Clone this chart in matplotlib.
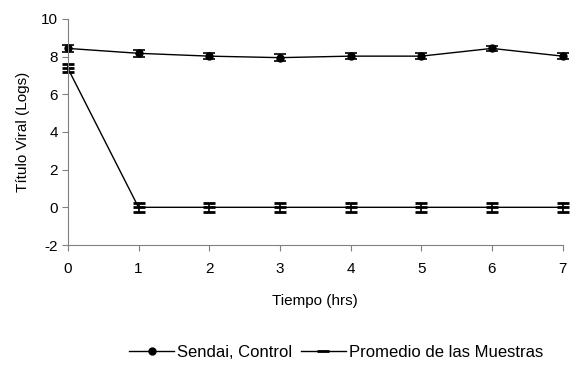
import matplotlib.pyplot as plt
from matplotlib.lines import Line2D

plt.switch_backend('Agg')
plt.rcParams['font.family'] = ['Liberation Sans', 'DejaVu Sans']
plt.rcParams['axes.unicode_minus'] = False

tiempo = [0, 1, 2, 3, 4, 5, 6, 7]
sendai_control = [8.43, 8.17, 8.02, 7.94, 8.02, 8.02, 8.43, 8.02]
sendai_err = [0.2, 0.2, 0.15, 0.2, 0.15, 0.15, 0.15, 0.15]
promedio = [7.38, 0, 0, 0, 0, 0, 0, 0]
promedio_err = [0.2, 0.25, 0.25, 0.25, 0.25, 0.25, 0.25, 0.25]

fig = plt.figure(figsize=(5.7, 3.69), dpi=100)
ax = fig.add_axes([0.119, 0.336, 0.868, 0.613])

ax.errorbar(tiempo, sendai_control, yerr=sendai_err, color='black', marker='o',
            markersize=5, linewidth=1, capsize=4, elinewidth=1.2, capthick=1.2)
ax.errorbar(tiempo, promedio, yerr=promedio_err, color='black', marker='_',
            markersize=9, markeredgewidth=2, linewidth=1, capsize=4,
            elinewidth=1.2, capthick=1.2)

ax.set_xlim(0, 7)
ax.set_ylim(-2, 10)
ax.set_xticks(tiempo)
ax.set_yticks(range(-2, 11, 2))
ax.tick_params(direction='out', length=4, color='#808080', labelsize=11, pad=8)
ax.tick_params(axis='y', pad=3)
for side in ['top', 'right']:
    ax.spines[side].set_visible(False)
for side in ['left', 'bottom']:
    ax.spines[side].set_color('#808080')
for art in ax.get_children():
    art.set_clip_on(False)

ax.set_xlabel('Tiempo (hrs)', fontsize=11, labelpad=13)
ax.set_ylabel('Título Viral (Logs)', fontsize=11, labelpad=8)

handles = [
    Line2D([], [], color='black', marker='o', markersize=5, linewidth=1),
    Line2D([], [], color='black', marker='_', markersize=9, markeredgewidth=2, linewidth=1),
]
labels = ['Sendai, Control', 'Promedio de las Muestras']
fig.legend(handles, labels, loc='center', bbox_to_anchor=(0.59, 0.045), ncol=2,
           frameon=False, fontsize=12, handlelength=2.7, columnspacing=0.5,
           handletextpad=0.2)

fig.savefig('out.png', dpi=100)
